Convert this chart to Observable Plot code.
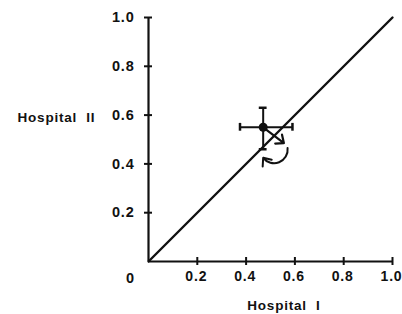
<!DOCTYPE html>
<html>
<head>
<meta charset="utf-8">
<script src="https://cdn.jsdelivr.net/npm/d3@7"></script>
<script src="https://cdn.jsdelivr.net/npm/@observablehq/plot@0.6"></script>
<style>
  html, body { margin: 0; padding: 0; background: #fff; }
  #chart { width: 402px; height: 314px; }
  #chart svg text { letter-spacing: 0.8px; }
</style>
</head>
<body>
<div id="chart"></div>
<script>
// --- data ---
const xTicks = [0.2, 0.4, 0.6, 0.8, 1.0];
const yTicks = [0.2, 0.4, 0.6, 0.8, 1.0];
const diagX = [0, 1];
const diagY = [0, 1];
const pointX = [0.47];
const pointY = [0.55];
const xLow = [0.375];
const xHigh = [0.59];
const yLow = [0.46];
const yHigh = [0.63];
// straight arrow from the estimate toward the diagonal
const moveFrom = [[0.47, 0.55]];
const moveTo = [[0.555, 0.485]];
// curved arrow below the estimate
const curveFrom = [[0.57, 0.465]];
const curveTo = [[0.47, 0.425]];

const ink = "#111";
const font = "Liberation Sans, Arial, sans-serif";

const est = pointX.map((x, i) => ({x, y: pointY[i], x1: xLow[i], x2: xHigh[i], y1: yLow[i], y2: yHigh[i]}));
const cap = 0.016;
const diag = diagX.map((x, i) => ({x, y: diagY[i]}));
const moves = moveFrom.map((a, i) => ({x1: a[0], y1: a[1], x2: moveTo[i][0], y2: moveTo[i][1]}));
const curves = curveFrom.map((a, i) => ({x1: a[0], y1: a[1], x2: curveTo[i][0], y2: curveTo[i][1]}));

const chart = Plot.plot({
  width: 402,
  height: 314,
  marginLeft: 148,
  marginRight: 10,
  marginTop: 17,
  marginBottom: 53,
  x: {domain: [0, 1]},
  y: {domain: [0, 1]},
  style: {fontFamily: font, background: "#fff", color: ink},
  marks: [
    // axis lines
    Plot.ruleX([0], {stroke: ink, strokeWidth: 2.2}),
    Plot.ruleY([0], {stroke: ink, strokeWidth: 2.2}),
    // crossing ticks
    Plot.axisY({ticks: yTicks, tickSize: 8, dx: 4, text: null, stroke: ink, strokeWidth: 2, label: null}),
    Plot.axisX({ticks: xTicks, tickSize: 8, dy: -4, text: null, stroke: ink, strokeWidth: 2, label: null}),
    // tick labels
    Plot.axisY({ticks: yTicks, tickSize: 0, tickPadding: 14, tickFormat: d3.format(".1f"),
      fontSize: 14.5, fontWeight: "bold", fill: ink, label: null}),
    Plot.axisX({ticks: xTicks, tickSize: 0, tickPadding: 10, tickFormat: d3.format(".1f"), dx: -1,
      fontSize: 14, fontWeight: "bold", fill: ink, label: null}),
    Plot.text([0], {x: 0, y: 0, text: () => "0", dx: -18, dy: 17, fontSize: 14.5, fontWeight: "bold", fill: ink}),
    // diagonal
    Plot.line(diag, {x: "x", y: "y", stroke: ink, strokeWidth: 2.4}),
    // error bars
    Plot.ruleY(est, {y: "y", x1: "x1", x2: "x2", stroke: ink, strokeWidth: 2}),
    Plot.ruleX(est, {x: "x", y1: "y1", y2: "y2", stroke: ink, strokeWidth: 2}),
    Plot.ruleX(est, {x: "x1", y1: d => d.y - cap, y2: d => d.y + cap, stroke: ink, strokeWidth: 2.5}),
    Plot.ruleX(est, {x: "x2", y1: d => d.y - cap, y2: d => d.y + cap, stroke: ink, strokeWidth: 2.5}),
    Plot.ruleY(est, {y: "y2", x1: d => d.x - cap, x2: d => d.x + cap, stroke: ink, strokeWidth: 2.5}),
    Plot.ruleY(est, {y: "y1", x1: d => d.x - cap, x2: d => d.x + cap, stroke: ink, strokeWidth: 2.5}),
    Plot.dot(est, {x: "x", y: "y", r: 4.5, fill: ink}),
    // arrows
    Plot.arrow(moves, {x1: "x1", y1: "y1", x2: "x2", y2: "y2", stroke: ink, strokeWidth: 2.2, headLength: 10, headAngle: 80}),
    Plot.arrow(curves, {x1: "x1", y1: "y1", x2: "x2", y2: "y2", bend: 75, stroke: ink, strokeWidth: 2, headLength: 10, headAngle: 80}),
    // axis titles
    Plot.text(["Hospital  II"], {x: 0, y: 0.5, text: d => d, dx: -131, dy: -22, textAnchor: "start",
      fontSize: 13.5, fontWeight: "bold", fill: ink}),
    Plot.text(["Hospital  I"], {x: 0.555, y: 0, text: d => d, dy: 44, fontSize: 13.5, fontWeight: "bold", fill: ink})
  ]
});
document.getElementById("chart").appendChild(chart);
</script>
</body>
</html>
